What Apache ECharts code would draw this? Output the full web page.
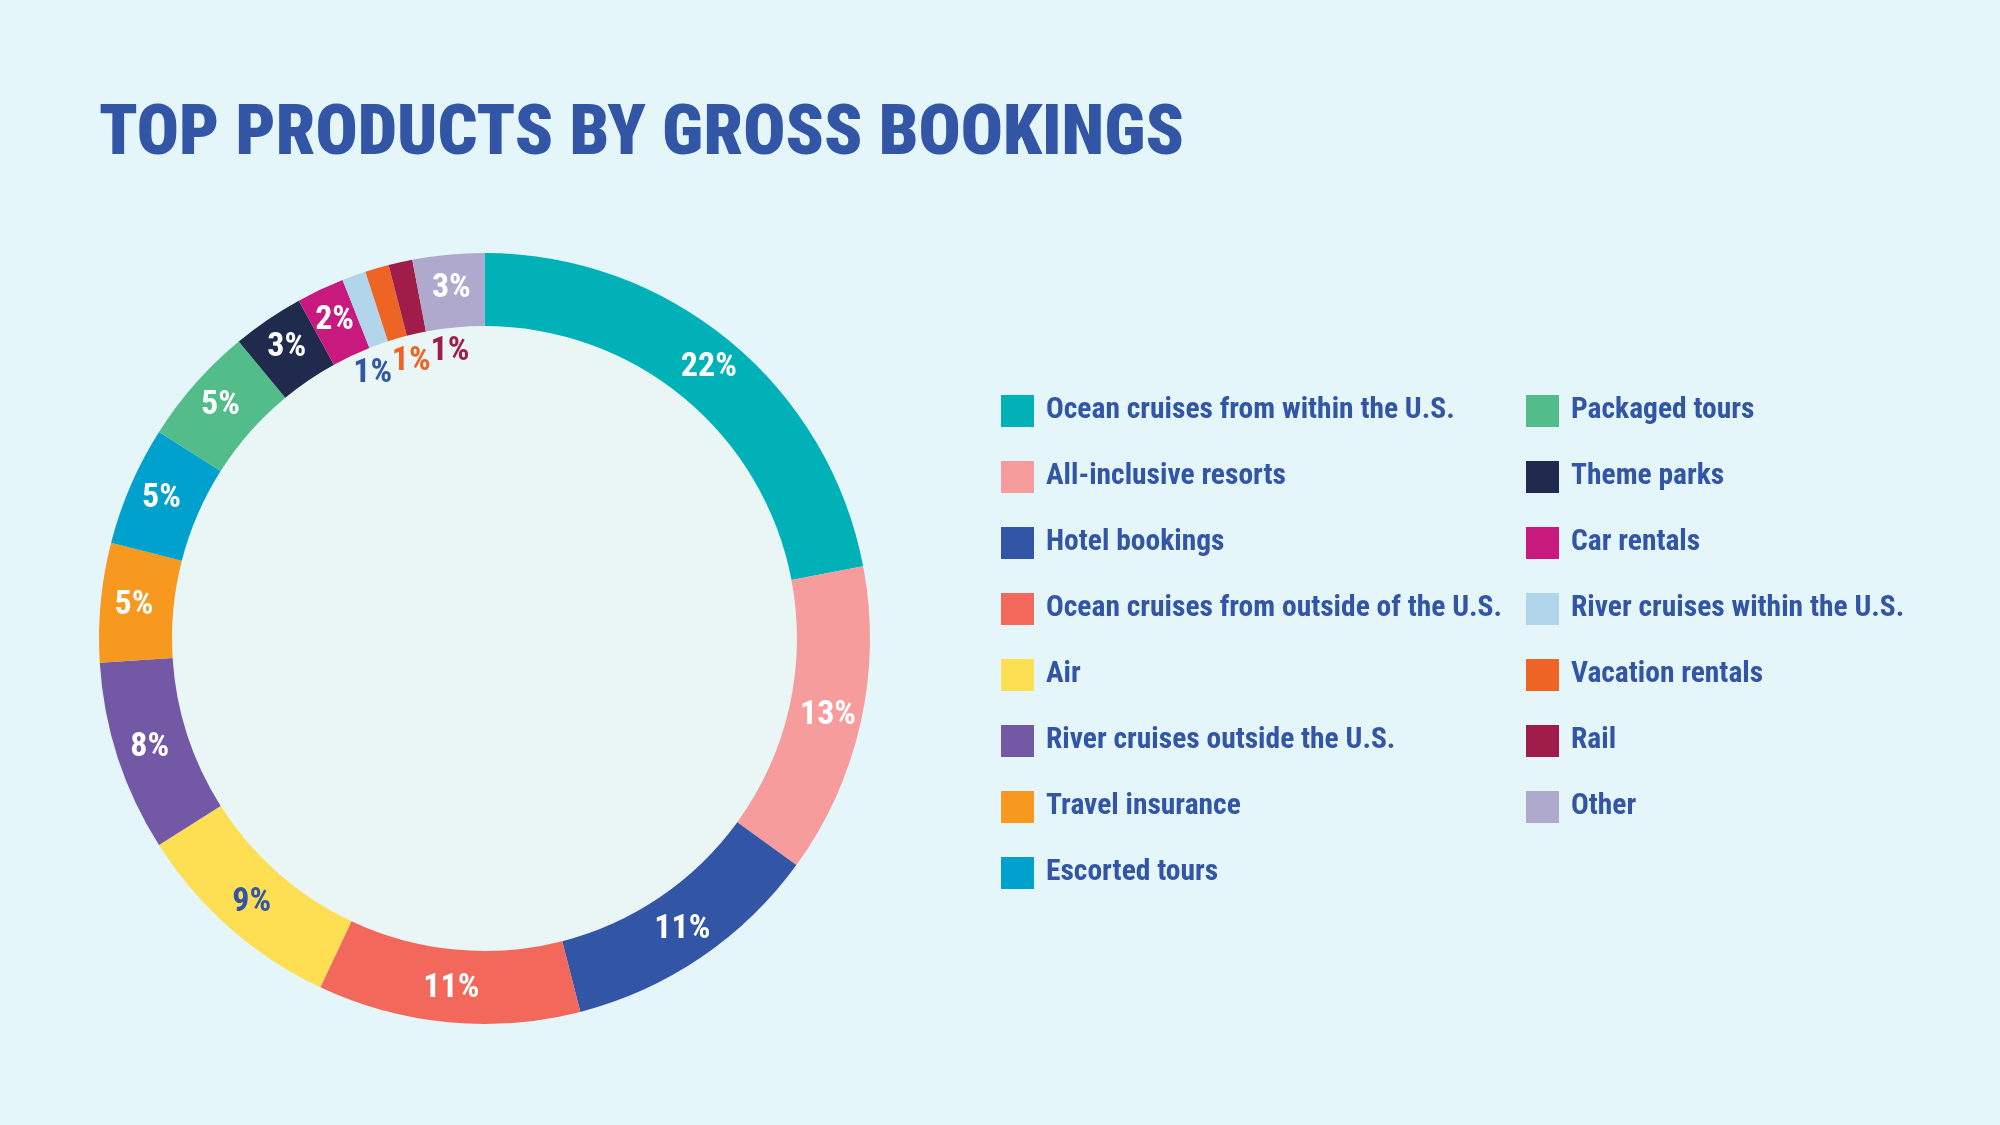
<!DOCTYPE html>
<html>
<head>
<meta charset="utf-8">
<title>Top products by gross bookings</title>
<script src="https://cdn.jsdelivr.net/npm/echarts@6/dist/echarts.min.js"></script>
<style>
  html, body { margin: 0; padding: 0; background: #e4f6f9; }
  #chart { width: 2000px; height: 1125px; }
</style>
</head>
<body>
<div id="chart"></div>
<script>
// share of gross bookings, %
var categories = [
  'Ocean cruises from within the U.S.',
  'All-inclusive resorts',
  'Hotel bookings',
  'Ocean cruises from outside of the U.S.',
  'Air',
  'River cruises outside the U.S.',
  'Travel insurance',
  'Escorted tours',
  'Packaged tours',
  'Theme parks',
  'Car rentals',
  'River cruises within the U.S.',
  'Vacation rentals',
  'Rail',
  'Other'
]
var values = [22, 13, 11, 11, 9, 8, 5, 5, 5, 3, 2, 1, 1, 1, 3]
var colors = [
  '#00b2b8', '#f69c9c', '#3355a5', '#f2685a', '#fede52',
  '#7358a6', '#f7981f', '#00a1cc', '#52bd8b', '#1f2a4d',
  '#c8197f', '#b1d5ea', '#ee6424', '#a01d4a', '#afaacd'
]

var blue = '#3355a5'
var font = '"Roboto Condensed", Roboto, sans-serif'
// the three 1% slices get their labels just inside the ring
var smallSlices = [11, 12, 13]
var smallLabelColors = [blue, '#ee6424', '#a01d4a']
var smallLabelShift = [[-13, 9], [8, 3], [29, -3]]

var chart = echarts.init(document.getElementById('chart'))

var ringData = categories.map(function(name, i) {
  var item = { name: name, value: values[i], itemStyle: { color: colors[i] } }
  if (smallSlices.indexOf(i) >= 0) {
    item.label = { show: false }
  } else if (name === 'Air') {
    item.label = { color: blue }
  }
  return item
})

var smallLabelData = categories.map(function(name, i) {
  var k = smallSlices.indexOf(i)
  return {
    name: name,
    value: values[i],
    label: k >= 0 ? { show: true, color: smallLabelColors[k] } : { show: false }
  }
})

var legendText = {
  color: blue,
  fontFamily: font,
  fontWeight: 'bold',
  fontSize: 29.5,
  padding: [0, 0, 0, 7]
}

chart.setOption({
  backgroundColor: '#e4f6f9',
  animation: false,
  title: {
    text: 'TOP PRODUCTS BY GROSS BOOKINGS',
    left: 99,
    top: 101,
    padding: 0,
    textStyle: {
      color: blue,
      fontFamily: font,
      fontWeight: 900,
      fontSize: 70
    }
  },
  legend: [
    {
      data: categories.slice(0, 8),
      orient: 'vertical',
      left: 1001,
      top: 395,
      padding: 0,
      icon: 'rect',
      itemWidth: 33,
      itemHeight: 32,
      itemGap: 34,
      selectedMode: false,
      textStyle: legendText
    },
    {
      data: categories.slice(8),
      orient: 'vertical',
      left: 1526,
      top: 395,
      padding: 0,
      icon: 'rect',
      itemWidth: 33,
      itemHeight: 32,
      itemGap: 34,
      selectedMode: false,
      textStyle: legendText
    }
  ],
  series: [
    {
      // pale disc inside the ring
      type: 'pie',
      silent: true,
      center: [484.5, 638.5],
      radius: [0, 313],
      label: { show: false },
      itemStyle: { color: '#e9f6f5' },
      data: [{ value: 1, name: '' }]
    },
    {
      type: 'pie',
      center: [484.5, 638.5],
      radius: [312.5, 385.5],
      startAngle: 90,
      clockwise: true,
      avoidLabelOverlap: false,
      itemStyle: { borderWidth: 0 },
      label: {
        show: true,
        position: 'inside',
        rotate: 0,
        formatter: '{c}%',
        color: '#ffffff',
        fontFamily: font,
        fontWeight: 'bold',
        fontSize: 34
      },
      labelLine: { show: false },
      emphasis: { disabled: true },
      data: ringData
    },
    {
      // label carrier for the tiny slices
      type: 'pie',
      silent: true,
      legendHoverLink: false,
      center: [484.5, 638.5],
      radius: [280, 297],
      startAngle: 90,
      clockwise: true,
      itemStyle: { color: 'rgba(0,0,0,0)' },
      label: {
        position: 'inside',
        rotate: 0,
        formatter: '{c}%',
        fontFamily: font,
        fontWeight: 'bold',
        fontSize: 34
      },
      labelLine: { show: false },
      labelLayout: function(params) {
        var k = smallSlices.indexOf(params.dataIndex)
        if (k < 0) return {}
        return { dx: smallLabelShift[k][0], dy: smallLabelShift[k][1] }
      },
      data: smallLabelData
    }
  ]
})
</script>
</body>
</html>
